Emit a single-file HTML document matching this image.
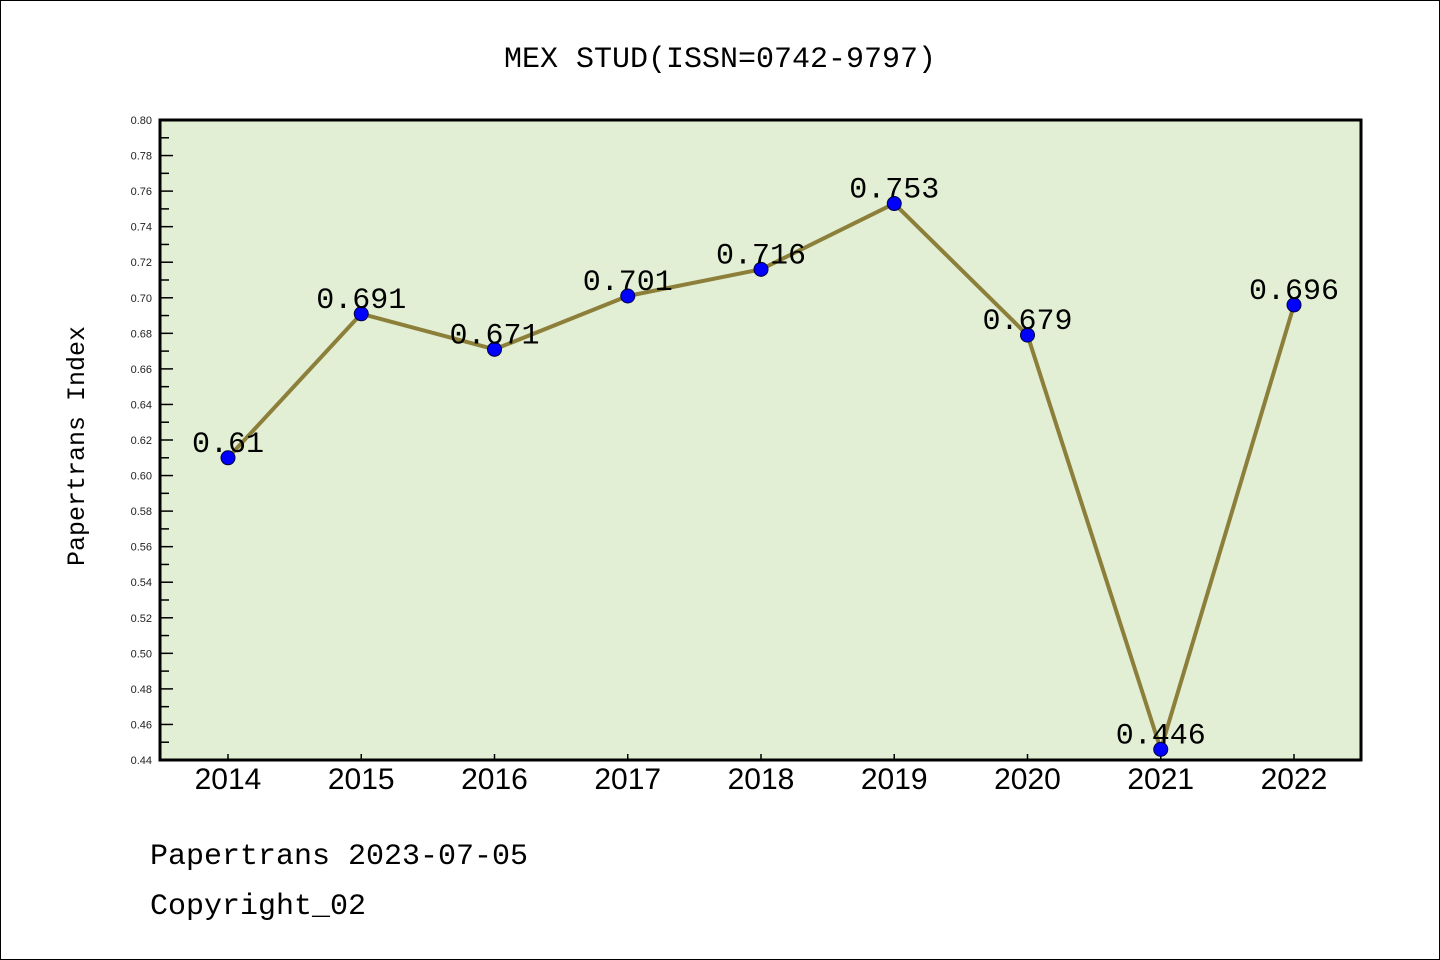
<!DOCTYPE html>
<html><head><meta charset="utf-8"><style>
body{margin:0;background:#fff}
svg{display:block}
text{font-family:"Liberation Mono","Noto Sans CJK SC",monospace}
.sans{font-family:"Liberation Sans",sans-serif}
</style></head><body>
<svg id="chart" width="1440" height="960" xmlns="http://www.w3.org/2000/svg">
<rect x="0.5" y="0.5" width="1439" height="959" fill="#fff" stroke="#000"/>
<text x="720" y="67" font-size="30" text-anchor="middle">MEX STUD(ISSN=0742-9797)</text>
<rect x="160" y="120" width="1201" height="640" fill="#e2efd5"/>
<g id="axes"></g>
<g id="series"></g>
<rect x="160" y="120" width="1201" height="640" fill="none" stroke="#000" stroke-width="3"/>
<text transform="translate(84,446) rotate(-90)" font-size="25" text-anchor="middle">Papertrans Index</text>
<text x="150" y="864" font-size="30">Papertrans 2023-07-05</text>
<text x="150" y="914" font-size="30">Copyright_02</text>
</svg>
<script>
const categories=["2014","2015","2016","2017","2018","2019","2020","2021","2022"];
const values=[0.61,0.691,0.671,0.701,0.716,0.753,0.679,0.446,0.696];
const valueLabels=["0.61","0.691","0.671","0.701","0.716","0.753","0.679","0.446","0.696"];
const yTicks=[0.44,0.46,0.48,0.50,0.52,0.54,0.56,0.58,0.60,0.62,0.64,0.66,0.68,0.70,0.72,0.74,0.76,0.78,0.80];
const NS="http://www.w3.org/2000/svg";
const yMin=0.44,yMax=0.80,plotTop=120,plotBot=760;
function yS(v){return plotBot-(v-yMin)/(yMax-yMin)*(plotBot-plotTop);}
function xS(i){return 228+i*133.25;}
function mk(t,a,p){const e=document.createElementNS(NS,t);for(const k in a)e.setAttribute(k,a[k]);p.appendChild(e);return e;}
const ax=document.getElementById('axes'),se=document.getElementById('series');
yTicks.forEach((v,i)=>{
  const l=mk('line',{x1:160,x2:173,y1:yS(v),y2:yS(v),stroke:'#000','stroke-width':1.5},ax);
  
  
  const t=mk('text',{x:152,y:yS(v)+4,'font-size':11,'text-anchor':'end',fill:'#222','class':'sans'},ax);
  t.textContent=v.toFixed(2);
  
  
  if(i<yTicks.length-1){
    const m=mk('line',{x1:160,x2:169,y1:yS(v+0.01),y2:yS(v+0.01),stroke:'#000','stroke-width':1.5},ax);
    
    
  }
});
categories.forEach((c,i)=>{
  const l=mk('line',{x1:xS(i),x2:xS(i),y1:760,y2:754,stroke:'#000','stroke-width':1.5},ax);
  
  
  const t=mk('text',{x:xS(i),y:789,'font-size':30,'text-anchor':'middle','class':'sans'},ax);
  t.textContent=c;
  
  
});
const pl=mk('polyline',{points:values.map((v,i)=>xS(i)+','+yS(v)).join(' '),fill:'none',stroke:'#8c7f3a','stroke-width':4,'stroke-linejoin':'round'},se);


values.forEach((v,i)=>{
  const c=mk('circle',{cx:xS(i),cy:yS(v),r:7,fill:'#0000ff',stroke:'#000040','stroke-width':1},se);
  
  
  const t=mk('text',{x:xS(i),y:yS(v)-6,'font-size':30,'text-anchor':'middle'},se);
  t.textContent=valueLabels[i];
  
  
});
</script>
</body></html>
